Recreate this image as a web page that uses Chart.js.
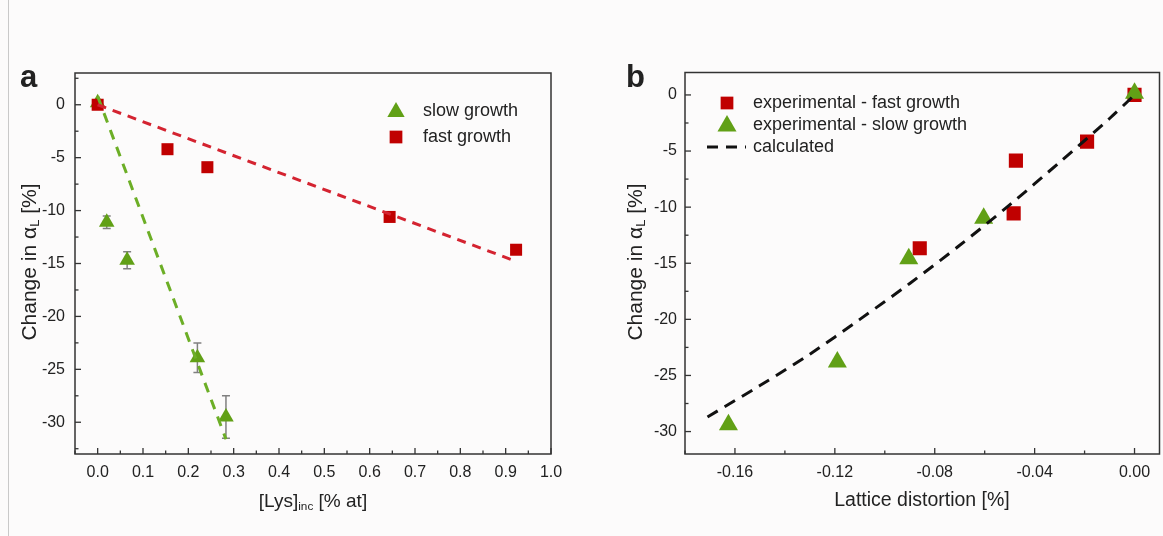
<!DOCTYPE html>
<html><head><meta charset="utf-8">
<script src="https://cdn.jsdelivr.net/npm/chart.js@4/dist/chart.umd.min.js"></script>
<style>
html,body{margin:0;padding:0;background:#fcfbfb;}
#wrap{position:relative;width:1163px;height:536px;overflow:hidden;font-family:"Liberation Sans",Arial,sans-serif;color:#222;}
#edge{position:absolute;left:8px;top:0;width:1px;height:536px;background:#c9c9c9;}
canvas{position:absolute;top:0;}
.t{position:absolute;white-space:nowrap;line-height:1;}
.t sub{font-size:0.62em;vertical-align:-0.28em;line-height:0;}
.yt{transform:translate(-50%,-50%) rotate(-90deg);}
.xt{transform:translate(-50%,-50%);}
</style></head>
<body><div id="wrap">
<div id="edge"></div>
<canvas id="ca" width="585" height="536" style="left:0"></canvas>
<canvas id="cb" width="600" height="536" style="left:585px"></canvas>
<div class="t" style="left:20px;top:61px;font-size:31px;font-weight:bold">a</div>
<div class="t" style="left:626px;top:61px;font-size:31px;font-weight:bold">b</div>
<div class="t yt" style="left:28px;top:262px;font-size:21px">Change in α<sub>L</sub> [%]</div>
<div class="t xt" style="left:313px;top:500px;font-size:19px">[Lys]<sub>inc</sub> [% at]</div>
<div class="t yt" style="left:634px;top:262px;font-size:21px">Change in α<sub>L</sub> [%]</div>
<div class="t xt" style="left:922px;top:500px;font-size:19.5px">Lattice distortion [%]</div>
</div>
<script>
// ---------- Panel a data ----------
const slowLysX = [0, 0.02, 0.065, 0.22, 0.283];
const slowLysY = [0.2, -11.1, -14.7, -23.9, -29.5];
const slowLysErr = [0, 0.6, 0.8, 1.4, 2.0];
const fastLysX = [0, 0.154, 0.242, 0.644, 0.923];
const fastLysY = [0, -4.2, -5.9, -10.6, -13.7];
const fitSlowX = [0, 0.283];
const fitSlowY = [0.8, -31.6];
const fitFastX = [0, 0.917];
const fitFastY = [0, -14.7];
const aXTicks = [0, 0.1, 0.2, 0.3, 0.4, 0.5, 0.6, 0.7, 0.8, 0.9, 1.0];
const aYTicks = [-30, -25, -20, -15, -10, -5, 0];
const aLegend = ['slow growth', 'fast growth'];

// ---------- Panel b data ----------
const fastDistX = [0, -0.019, -0.0475, -0.0484, -0.086];
const fastDistY = [0, -4.16, -5.85, -10.55, -13.66];
const slowDistX = [0, -0.0604, -0.0904, -0.119, -0.1626];
const slowDistY = [0.15, -11.0, -14.6, -23.8, -29.4];
const calcX = [-0.171, -0.15, -0.13, -0.11, -0.09, -0.07, -0.05, -0.03, -0.01, 0];
const calcY = [-28.7, -25.9, -23.1, -20.0, -16.8, -13.4, -9.8, -6.0, -2.1, 0];
const bXTicks = [-0.16, -0.12, -0.08, -0.04, 0.0];
const bYTicks = [-30, -25, -20, -15, -10, -5, 0];
const bLegend = ['experimental - fast growth', 'experimental - slow growth', 'calculated'];

const RED = '#c00000', GREEN = '#61a016', FONT = '"Liberation Sans", Arial, sans-serif';
const zip = (xs, ys) => xs.map((x, i) => ({x, y: ys[i]}));

function drawMarker(ctx, style, x, y, r, color) {
  ctx.save();
  ctx.fillStyle = color;
  ctx.beginPath();
  if (style === 'rect') {
    const s = r * Math.SQRT1_2;
    ctx.rect(x - s, y - s, 2 * s, 2 * s);
  } else if (style === 'triangle') {
    ctx.moveTo(x, y - r);
    ctx.lineTo(x + r * 0.866, y + r * 0.5);
    ctx.lineTo(x - r * 0.866, y + r * 0.5);
    ctx.closePath();
  }
  ctx.fill();
  ctx.restore();
}

const framePlugin = {
  id: 'frame',
  afterDraw(chart) {
    const {ctx, chartArea: a, scales} = chart;
    ctx.save();
    ctx.strokeStyle = '#333';
    ctx.lineWidth = 1.5;
    ctx.strokeRect(a.left, a.top, a.right - a.left, a.bottom - a.top);
    ctx.lineWidth = 1.3;
    const drawTicks = (scale, horiz) => {
      const vals = scale.ticks.map(t => t.value);
      const minors = [];
      const step = vals[1] - vals[0];
      for (let i = -1; i < vals.length; i++) {
        const m = (i < 0 ? vals[0] - step / 2 : vals[i] + step / 2);
        if (m >= scale.min - 1e-9 && m <= scale.max + 1e-9) minors.push(m);
      }
      const all = vals.map(v => [v, 6]).concat(minors.map(v => [v, 3.5]));
      all.forEach(([v, len]) => {
        const p = scale.getPixelForValue(v);
        ctx.beginPath();
        if (horiz) { ctx.moveTo(p, a.bottom); ctx.lineTo(p, a.bottom - len); }
        else { ctx.moveTo(a.left, p); ctx.lineTo(a.left + len, p); }
        ctx.stroke();
      });
    };
    drawTicks(scales.x, true);
    drawTicks(scales.y, false);
    ctx.restore();
  }
};

const errorPlugin = {
  id: 'errbars',
  beforeDatasetsDraw(chart) {
    const {ctx, scales} = chart;
    ctx.save();
    ctx.strokeStyle = '#808080';
    ctx.lineWidth = 1.5;
    chart.data.datasets.forEach(ds => {
      if (!ds.errors) return;
      ds.data.forEach((pt, i) => {
        const e = ds.errors[i];
        if (!e) return;
        const x = scales.x.getPixelForValue(pt.x);
        const y1 = scales.y.getPixelForValue(pt.y + e);
        const y2 = scales.y.getPixelForValue(pt.y - e);
        ctx.beginPath();
        ctx.moveTo(x, y1); ctx.lineTo(x, y2);
        ctx.moveTo(x - 4, y1); ctx.lineTo(x + 4, y1);
        ctx.moveTo(x - 4, y2); ctx.lineTo(x + 4, y2);
        ctx.stroke();
      });
    });
    ctx.restore();
  }
};

const legendPlugin = {
  id: 'boxlegend',
  afterDraw(chart, args, opts) {
    const {ctx} = chart;
    ctx.save();
    ctx.font = '18px ' + FONT;
    ctx.fillStyle = '#222';
    ctx.textBaseline = 'middle';
    ctx.textAlign = 'left';
    opts.items.forEach((it, i) => {
      const y = opts.y + i * opts.rowH;
      if (it.style === 'line') {
        ctx.strokeStyle = it.color;
        ctx.lineWidth = 3;
        ctx.setLineDash([11, 8]);
        ctx.beginPath();
        ctx.moveTo(opts.x - 20, y); ctx.lineTo(opts.x + 19, y);
        ctx.stroke();
        ctx.setLineDash([]);
      } else {
        drawMarker(ctx, it.style, opts.x, y + (it.style === 'triangle' ? 1 : 0), it.r, it.color);
      }
      ctx.fillStyle = '#222';
      ctx.fillText(it.text, opts.textX, y);
    });
    ctx.restore();
  }
};

function axis(ticksArr, min, max, digits, padding, fitProp, fitVal) {
  return {
    type: 'linear', min, max,
    grid: {display: false, drawTicks: false},
    border: {display: false},
    ticks: {
      font: {family: FONT, size: 16}, color: '#222', padding,
      autoSkip: false, maxRotation: 0,
      callback: v => Number(v).toFixed(digits)
    },
    afterBuildTicks: s => { s.ticks = ticksArr.map(v => ({value: v})); },
    afterFit: s => { s[fitProp] = fitVal; }
  };
}

// ---------- Chart a ----------
new Chart(document.getElementById('ca'), {
  type: 'scatter',
  data: {
    datasets: [
      {label: 'fit fast', data: zip(fitFastX, fitFastY), showLine: true, borderColor: '#d42330', borderWidth: 3, borderDash: [9, 7], pointRadius: 0, order: 0},
      {label: 'fit slow', data: zip(fitSlowX, fitSlowY), showLine: true, borderColor: '#6cae26', borderWidth: 3, borderDash: [10, 8], pointRadius: 0, order: 1},
      {label: aLegend[1], data: zip(fastLysX, fastLysY), pointStyle: 'rect', pointRadius: 8.5, backgroundColor: RED, borderColor: RED, borderWidth: 0, order: 2},
      {label: aLegend[0], data: zip(slowLysX, slowLysY), errors: slowLysErr, pointStyle: 'triangle', pointRadius: 9, backgroundColor: GREEN, borderColor: GREEN, borderWidth: 0, order: 3}
    ]
  },
  options: {
    responsive: false, animation: false, devicePixelRatio: 1, events: [],
    layout: {padding: {top: 73, right: 34, bottom: 0, left: 0}},
    scales: {
      x: axis(aXTicks, -0.05, 1.0, 1, 9, 'height', 82),
      y: axis(aYTicks, -33, 3, 0, 10, 'width', 75)
    },
    plugins: {
      legend: {display: false}, tooltip: {enabled: false},
      boxlegend: {x: 396, textX: 423, y: 111, rowH: 26, items: [
        {style: 'triangle', r: 10, color: GREEN, text: aLegend[0]},
        {style: 'rect', r: 9, color: RED, text: aLegend[1]}
      ]}
    }
  },
  plugins: [errorPlugin, framePlugin, legendPlugin]
});

// ---------- Chart b ----------
new Chart(document.getElementById('cb'), {
  type: 'scatter',
  data: {
    datasets: [
      {label: bLegend[2], data: zip(calcX, calcY), showLine: true, borderColor: '#111', borderWidth: 3, borderDash: [12, 8], pointRadius: 0, tension: 0.3, order: 0},
      {label: bLegend[0], data: zip(fastDistX, fastDistY), pointStyle: 'rect', pointRadius: 10, backgroundColor: RED, borderColor: RED, borderWidth: 0, order: 2},
      {label: bLegend[1], data: zip(slowDistX, slowDistY), pointStyle: 'triangle', pointRadius: 11, backgroundColor: GREEN, borderColor: GREEN, borderWidth: 0, order: 1}
    ]
  },
  options: {
    responsive: false, animation: false, devicePixelRatio: 1, events: [],
    layout: {padding: {top: 72.5, right: 25.5, bottom: 0, left: 0}},
    scales: {
      x: axis(bXTicks, -0.18, 0.01, 2, 9, 'height', 82),
      y: axis(bYTicks, -32, 2, 0, 8, 'width', 100)
    },
    plugins: {
      legend: {display: false}, tooltip: {enabled: false},
      boxlegend: {x: 142, textX: 168, y: 103, rowH: 22, items: [
        {style: 'rect', r: 9, color: RED, text: bLegend[0]},
        {style: 'triangle', r: 11, color: GREEN, text: bLegend[1]},
        {style: 'line', color: '#111', text: bLegend[2]}
      ]}
    }
  },
  plugins: [framePlugin, legendPlugin]
});
</script>
</body></html>
